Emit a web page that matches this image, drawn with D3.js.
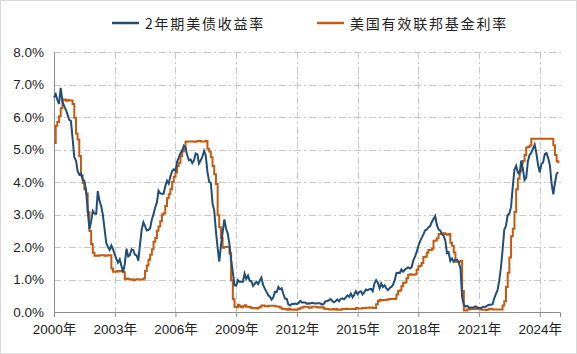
<!DOCTYPE html>
<html>
<head>
<meta charset="utf-8">
<script src="https://cdn.jsdelivr.net/npm/d3@7"></script>
<style>
  body { margin: 0; background: #fff; }
</style>
</head>
<body>
<div id="chart"></div>
<script>
// monthly values starting Jan 2000
const startYear = 2000;
const seriesNames = ["2年期美债收益率", "美国有效联邦基金利率"];
const xTickYears = [2000, 2003, 2006, 2009, 2012, 2015, 2018, 2021, 2024];
const yTickValues = [0, 1, 2, 3, 4, 5, 6, 7, 8];

const treasury2y = [
  6.60, 6.70, 6.53, 6.40, 6.90, 6.48, 6.34, 6.23, 6.08, 5.91, 5.88, 5.35, // 2000
  4.76, 4.66, 4.34, 4.23, 4.26, 4.08, 4.04, 3.76, 3.12, 2.55, 2.78, 3.11, // 2001
  3.03, 3.02, 3.72, 3.42, 3.26, 2.99, 2.56, 2.13, 2.00, 1.91, 2.05, 1.93, // 2002
  1.77, 1.63, 1.52, 1.62, 1.42, 1.23, 1.47, 1.95, 1.71, 1.75, 1.93, 1.91, // 2003
  1.76, 1.74, 1.58, 2.07, 2.53, 2.76, 2.64, 2.51, 2.53, 2.58, 2.85, 3.01, // 2004
  3.22, 3.38, 3.73, 3.65, 3.64, 3.64, 3.87, 4.04, 3.95, 4.17, 4.33, 4.39, // 2005
  4.35, 4.64, 4.74, 4.89, 4.97, 5.12, 5.06, 4.82, 4.67, 4.69, 4.58, 4.67, // 2006
  4.88, 4.85, 4.57, 4.67, 4.77, 4.96, 4.82, 4.31, 4.01, 3.97, 3.34, 3.12, // 2007
  2.48, 1.97, 1.55, 2.05, 2.45, 2.85, 2.57, 2.42, 2.08, 1.61, 1.21, 0.82, // 2008
  0.81, 0.98, 0.93, 0.93, 0.93, 1.18, 1.02, 1.12, 0.96, 0.95, 0.80, 0.87, // 2009
  0.93, 0.86, 0.96, 1.06, 0.83, 0.72, 0.62, 0.52, 0.47, 0.38, 0.45, 0.62, // 2010
  0.61, 0.77, 0.70, 0.73, 0.56, 0.41, 0.41, 0.23, 0.20, 0.25, 0.25, 0.26, // 2011
  0.24, 0.28, 0.34, 0.29, 0.29, 0.29, 0.25, 0.27, 0.26, 0.28, 0.27, 0.26, // 2012
  0.27, 0.27, 0.26, 0.23, 0.25, 0.33, 0.34, 0.36, 0.40, 0.34, 0.30, 0.34, // 2013
  0.39, 0.33, 0.40, 0.42, 0.39, 0.45, 0.51, 0.47, 0.57, 0.45, 0.53, 0.64, // 2014
  0.55, 0.62, 0.64, 0.54, 0.61, 0.69, 0.67, 0.70, 0.71, 0.64, 0.88, 0.98, // 2015
  0.90, 0.73, 0.88, 0.77, 0.82, 0.73, 0.67, 0.74, 0.77, 0.84, 0.98, 1.20, // 2016
  1.21, 1.20, 1.31, 1.24, 1.30, 1.34, 1.37, 1.34, 1.38, 1.58, 1.70, 1.84, // 2017
  2.03, 2.18, 2.28, 2.38, 2.51, 2.53, 2.61, 2.64, 2.77, 2.86, 2.95, 2.68, // 2018
  2.54, 2.50, 2.41, 2.34, 2.21, 1.81, 1.84, 1.57, 1.65, 1.55, 1.61, 1.61, // 2019
  1.52, 1.33, 0.45, 0.22, 0.17, 0.19, 0.14, 0.14, 0.13, 0.15, 0.17, 0.14, // 2020
  0.13, 0.12, 0.15, 0.16, 0.16, 0.20, 0.22, 0.22, 0.24, 0.42, 0.56, 0.68, // 2021
  0.98, 1.40, 1.91, 2.54, 2.65, 2.99, 3.02, 3.24, 3.86, 4.38, 4.50, 4.29, // 2022
  4.25, 4.66, 4.42, 4.06, 4.13, 4.64, 4.83, 4.90, 5.03, 5.15, 4.88, 4.53, // 2023
  4.30, 4.56, 4.60, 4.86, 4.89, 4.74, 4.52, 3.96, 3.62, 3.97, 4.26, 4.30  // 2024
];

const fedFunds = [
  5.20, 5.73, 5.85, 6.02, 6.27, 6.53, 6.54, 6.50, 6.52, 6.51, 6.51, 6.40, // 2000
  5.98, 5.49, 5.31, 4.80, 4.21, 3.97, 3.77, 3.65, 3.07, 2.49, 2.09, 1.82, // 2001
  1.73, 1.74, 1.73, 1.75, 1.75, 1.75, 1.73, 1.74, 1.75, 1.75, 1.34, 1.24, // 2002
  1.24, 1.26, 1.25, 1.26, 1.26, 1.22, 1.01, 1.03, 1.01, 1.01, 1.00, 0.98, // 2003
  1.00, 1.01, 1.00, 1.00, 1.00, 1.03, 1.26, 1.43, 1.61, 1.76, 1.93, 2.16, // 2004
  2.28, 2.50, 2.63, 2.79, 3.00, 3.04, 3.26, 3.50, 3.62, 3.78, 4.00, 4.16, // 2005
  4.29, 4.49, 4.59, 4.79, 4.94, 4.99, 5.24, 5.25, 5.25, 5.25, 5.25, 5.24, // 2006
  5.25, 5.26, 5.26, 5.25, 5.25, 5.25, 5.26, 5.02, 4.94, 4.76, 4.49, 4.24, // 2007
  3.94, 2.98, 2.61, 2.28, 1.98, 2.00, 2.01, 2.00, 1.81, 0.97, 0.39, 0.16, // 2008
  0.15, 0.22, 0.18, 0.15, 0.18, 0.21, 0.16, 0.16, 0.15, 0.12, 0.12, 0.12, // 2009
  0.11, 0.13, 0.16, 0.20, 0.20, 0.18, 0.18, 0.19, 0.19, 0.19, 0.19, 0.18, // 2010
  0.17, 0.16, 0.14, 0.10, 0.09, 0.09, 0.07, 0.10, 0.08, 0.07, 0.08, 0.07, // 2011
  0.08, 0.10, 0.13, 0.14, 0.16, 0.16, 0.16, 0.13, 0.14, 0.16, 0.16, 0.16, // 2012
  0.14, 0.15, 0.14, 0.15, 0.11, 0.09, 0.09, 0.08, 0.08, 0.09, 0.08, 0.09, // 2013
  0.07, 0.07, 0.08, 0.09, 0.09, 0.10, 0.09, 0.09, 0.09, 0.09, 0.09, 0.12, // 2014
  0.11, 0.11, 0.11, 0.12, 0.12, 0.13, 0.13, 0.14, 0.14, 0.12, 0.12, 0.24, // 2015
  0.34, 0.38, 0.36, 0.37, 0.37, 0.38, 0.39, 0.40, 0.40, 0.40, 0.41, 0.54, // 2016
  0.65, 0.66, 0.79, 0.90, 0.91, 1.04, 1.15, 1.16, 1.15, 1.15, 1.16, 1.30, // 2017
  1.41, 1.42, 1.51, 1.69, 1.70, 1.82, 1.91, 1.91, 1.95, 2.19, 2.20, 2.27, // 2018
  2.40, 2.40, 2.41, 2.42, 2.39, 2.38, 2.40, 2.13, 2.04, 1.83, 1.55, 1.55, // 2019
  1.55, 1.58, 0.65, 0.05, 0.05, 0.08, 0.09, 0.10, 0.09, 0.09, 0.09, 0.09, // 2020
  0.09, 0.08, 0.07, 0.07, 0.06, 0.08, 0.10, 0.09, 0.08, 0.08, 0.08, 0.08, // 2021
  0.08, 0.08, 0.20, 0.33, 0.77, 1.21, 1.68, 2.33, 2.56, 3.08, 3.78, 4.10, // 2022
  4.33, 4.57, 4.65, 4.83, 5.06, 5.08, 5.12, 5.33, 5.33, 5.33, 5.33, 5.33, // 2023
  5.33, 5.33, 5.33, 5.33, 5.33, 5.33, 5.33, 5.33, 5.13, 4.83, 4.64, 4.58  // 2024
];

const colors = ["#1f4e79", "#c55a11"];

const W = 577, H = 354;
const margin = { top: 52, right: 16, bottom: 42, left: 54 };
const innerW = W - margin.left - margin.right;
const innerH = H - margin.top - margin.bottom;

const svg = d3.select("#chart")
  .append("svg")
  .attr("width", W)
  .attr("height", H);

// outer frame
svg.append("rect")
  .attr("x", 0.5).attr("y", 0.5)
  .attr("width", W - 1).attr("height", H - 1)
  .attr("fill", "#fff")
  .attr("stroke", "#d9d9d9");

const g = svg.append("g")
  .attr("transform", `translate(${margin.left},${margin.top})`);

const x = d3.scaleTime()
  .domain([new Date(startYear, 0, 1), new Date(2024, 11, 31)])
  .range([0, innerW - 1]);

const y = d3.scaleLinear()
  .domain([0, 8])
  .range([innerH, 0]);

const dates = treasury2y.map((d, i) => new Date(startYear, i, 1));

// grid lines
g.append("g")
  .selectAll("line")
  .data(yTickValues.filter(d => d > 0))
  .join("line")
  .attr("x1", 0)
  .attr("x2", innerW)
  .attr("y1", d => Math.round(y(d)) + 0.5)
  .attr("y2", d => Math.round(y(d)) + 0.5)
  .attr("stroke", "#c9c9c9")
  .attr("stroke-dasharray", "7,3,2,3");

g.append("g")
  .selectAll("line")
  .data(xTickYears.filter(d => d > startYear))
  .join("line")
  .attr("x1", d => Math.round(x(new Date(d, 0, 1))) + 0.5)
  .attr("x2", d => Math.round(x(new Date(d, 0, 1))) + 0.5)
  .attr("y1", 0)
  .attr("y2", innerH)
  .attr("stroke", "#c9c9c9")
  .attr("stroke-dasharray", "7,3,2,3");

// Y axis
const yAxis = g.append("g")
  .call(d3.axisLeft(y).tickValues(yTickValues).tickSize(0).tickPadding(10)
    .tickFormat(d => d.toFixed(1) + "%"));
yAxis.select(".domain").attr("stroke", "#8c8c8c");
yAxis.selectAll("text")
  .style("font-family", "'Liberation Sans', Arial, sans-serif")
  .style("font-size", "13.5px")
  .style("fill", "#222");

// X axis
const xAxis = g.append("g")
  .attr("transform", `translate(0,${innerH})`)
  .call(d3.axisBottom(x)
    .tickValues(xTickYears.map(d => new Date(d, 0, 1)))
    .tickSize(5).tickPadding(7)
    .tickFormat(d => d.getFullYear() + "年"));
xAxis.select(".domain").attr("stroke", "#8c8c8c");
xAxis.selectAll(".tick line").attr("stroke", "#8c8c8c");
xAxis.selectAll("text")
  .style("font-family", "'Liberation Sans', 'Noto Sans CJK SC', sans-serif")
  .style("font-size", "13.5px")
  .style("fill", "#222");

// lines
const lineCurve = d3.line()
  .x((d, i) => x(dates[i]))
  .y(d => y(d));

const stepLine = d3.line()
  .x((d, i) => x(dates[i]))
  .y(d => y(d))
  .curve(d3.curveStepAfter);

g.append("path")
  .datum(fedFunds)
  .attr("fill", "none")
  .attr("stroke", colors[1])
  .attr("stroke-width", 2)
  .attr("d", stepLine);

g.append("path")
  .datum(treasury2y)
  .attr("fill", "none")
  .attr("stroke", colors[0])
  .attr("stroke-width", 2)
  .attr("d", lineCurve);

// legend
const legendX = [112, 317];
const legend = svg.append("g");
seriesNames.forEach((name, i) => {
  legend.append("line")
    .attr("x1", legendX[i]).attr("x2", legendX[i] + 27)
    .attr("y1", 23).attr("y2", 23)
    .attr("stroke", colors[i])
    .attr("stroke-width", 2.5);
  legend.append("text")
    .attr("x", legendX[i] + 33)
    .attr("y", 28.5)
    .text(name)
    .style("font-family", "'Noto Sans CJK SC', sans-serif")
    .style("font-size", "14px")
    .style("letter-spacing", "1.8px")
    .style("fill", "#222");
});
</script>
</body>
</html>
